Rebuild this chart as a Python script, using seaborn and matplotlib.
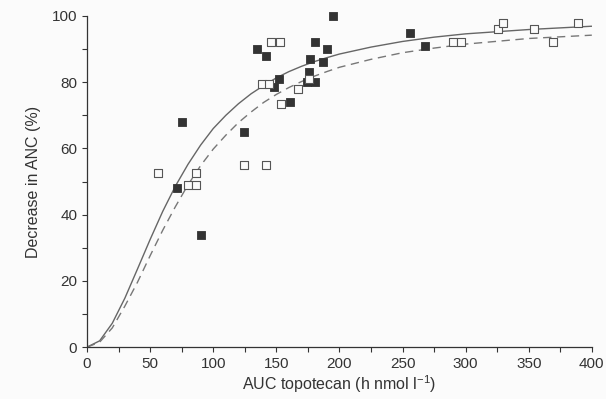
from matplotlib import pyplot as plt
import seaborn as sns
import pandas as pd

# filled squares
filled_auc = [195, 135, 75, 142, 181, 190, 177, 187, 176, 174, 181, 152, 148, 161, 256, 268, 124, 71, 90]
filled_anc = [100, 90, 68, 88, 92, 90, 87, 86, 83, 80, 80, 81, 78.5, 74, 95, 91, 65, 48, 34]

# open squares
open_auc = [146, 153, 176, 139, 144, 167, 154, 290, 296, 326, 330, 354, 369, 389, 56, 86, 124, 142, 80, 86]
open_anc = [92, 92, 81, 79.5, 79.5, 78, 73.5, 92, 92, 96, 98, 96, 92, 98, 52.5, 52.5, 55, 55, 49, 49]

# fitted curves
curve_auc = [0, 10, 20, 30, 40, 50, 60, 70, 80, 90, 100, 110, 120, 130, 140, 150, 160, 170,
             180, 190, 200, 225, 250, 275, 300, 350, 400]
solid_anc = [0, 1.9, 7.2, 14.8, 23.6, 32.5, 41, 48.6, 55.2, 61, 66, 70, 73.5, 76.5, 79, 81.3,
             83.2, 84.8, 86.2, 87.4, 88.5, 90.6, 92.3, 93.6, 94.6, 95.9, 96.9]
dashed_anc = [0, 1.5, 5.8, 12.4, 19.6, 27.6, 35.3, 42.4, 49, 54.8, 59.8, 64, 67.8, 71, 73.9,
              76.3, 78.4, 80.2, 81.8, 83.2, 84.5, 86.9, 88.9, 90.3, 91.5, 93.2, 94.2]

sns.set_style('ticks')
plt.rcParams['font.family'] = ['Liberation Sans', 'DejaVu Sans']
plt.rcParams['mathtext.default'] = 'regular'

ink = '#333333'
fig = plt.figure(figsize=(6.06, 3.99), dpi=100, facecolor='#fbfbfb')
ax = fig.add_axes([0.1436, 0.13, 0.833, 0.83])
ax.set_facecolor('#fbfbfb')

curves = pd.DataFrame({'auc': curve_auc, 'solid': solid_anc, 'dashed': dashed_anc})
sns.lineplot(data=curves, x='auc', y='solid', ax=ax, color='#666666', lw=1.0)
sns.lineplot(data=curves, x='auc', y='dashed', ax=ax, color='#777777', lw=1.0,
             linestyle=(0, (6, 4)))

sns.scatterplot(x=filled_auc, y=filled_anc, ax=ax, marker='s', s=30, color=ink,
                edgecolor=ink, linewidth=0.6, zorder=3, clip_on=False)
sns.scatterplot(x=open_auc, y=open_anc, ax=ax, marker='s', s=30, facecolor='#fbfbfb',
                edgecolor='#555555', linewidth=0.8, zorder=3, clip_on=False)

ax.set_xlim(0, 400)
ax.set_ylim(0, 100)
ax.set_xticks(range(0, 401, 50))
ax.set_xticks(range(0, 401, 25), minor=True)
ax.set_yticks(range(0, 101, 20))
ax.set_yticks(range(0, 101, 10), minor=True)
ax.tick_params(colors=ink, labelsize=11, length=3.5, width=0.8)
ax.tick_params(which='minor', length=3.5, width=0.8, color=ink)
for s in ['top', 'right']:
    ax.spines[s].set_visible(False)
for s in ['left', 'bottom']:
    ax.spines[s].set_color(ink)
    ax.spines[s].set_linewidth(0.9)

ax.set_xlabel(r'AUC topotecan (h nmol l$^{-1}$)', fontsize=11.5, color=ink, labelpad=2)
ax.set_ylabel('Decrease in ANC (%)', fontsize=11.5, color=ink, labelpad=8)

plt.savefig('out.png', dpi=100, facecolor=fig.get_facecolor())
